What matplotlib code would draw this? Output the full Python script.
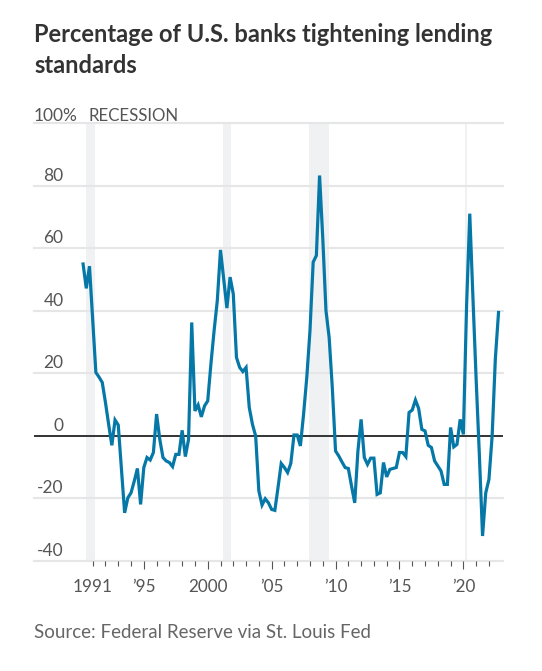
import matplotlib
matplotlib.use("Agg")
import matplotlib.pyplot as plt
import matplotlib.transforms as mtransforms
import numpy as np

plt.rcParams['font.family'] = ['Lato', 'DejaVu Sans']

# net % of banks tightening C&I lending standards, quarterly from 1990 Q2
start_year = 1990.25
pct_tightening = [
    55.0, 47.2, 54.3, 37.0, 20.3, 18.8, 17.1, 10.7, 3.7, -3.0,
    5.1, 3.5, -10.7, -24.6, -19.8, -18.2, -14.5, -10.4, -21.9, -10.1,
    -6.9, -7.7, -5.3, 7.0, -1.1, -6.9, -8.0, -8.5, -9.8, -5.9,
    -5.9, 1.8, -6.6, -1.1, 36.3, 8.0, 9.9, 6.1, 9.6, 11.2,
    23.0, 33.7, 43.3, 59.5, 50.2, 40.9, 50.8, 45.4, 25.1, 21.9,
    20.6, 21.9, 9.1, 3.7, 0.0, -17.6, -22.1, -20.1, -21.4, -23.5,
    -23.8, -16.5, -8.8, -10.1, -11.7, -8.8, 0.3, 0.3, -3.2, 7.0,
    18.7, 33.7, 55.6, 57.7, 83.3, 63.3, 40.1, 31.5, 15.1, -4.8,
    -6.4, -8.3, -10.1, -10.4, -16.0, -21.4, -4.8, 5.3, -6.9, -9.1,
    -7.1, -7.1, -18.7, -18.2, -8.5, -13.1, -10.7, -10.4, -10.1, -5.3,
    -5.3, -6.6, 7.5, 8.3, 11.5, 8.8, 2.1, 1.6, -3.0, -3.7,
    -8.0, -9.6, -11.2, -15.5, -15.5, 2.7, -3.5, -2.7, 5.3, 0.5,
    41.5, 71.1, 44.0, 18.0, -6.0, -32.0, -18.2, -13.9, 0.0, 24.6,
    39.5,
]
quarters = start_year + 0.25 * np.arange(len(pct_tightening))

# recessions (start, end) in decimal years
recessions = [(1990.5, 1991.2), (2001.17, 2001.83), (2007.92, 2009.5), (2020.1, 2020.3)]

y_ticks = [100, 80, 60, 40, 20, 0, -20, -40]
x_major = [1991, 1995, 2000, 2005, 2010, 2015, 2020]
x_labels = ["1991", "\u201995", "2000", "\u201905", "\u201910", "\u201915", "\u201920"]
x_minor = list(range(1991, 2023))

W, H = 542, 671
fig = plt.figure(figsize=(W / 100, H / 100), dpi=100)
ax = fig.add_axes([34 / W, (H - 561) / H, 469 / W, 437.7 / H])
ax.set_xlim(1986.41, 2023.10)
ax.set_ylim(-40, 100)

for a, b in recessions:
    ax.axvspan(a, b, color='#f0f1f3', lw=0, zorder=0)

for v in y_ticks:
    if v == 0:
        continue
    ax.axhline(v, color='#e6e6e6', lw=1.5, zorder=1, clip_on=False)
ax.axhline(0, color='#333333', lw=1.4, zorder=2)

ax.plot(quarters, pct_tightening, color='#0678a8', lw=2.3, zorder=3,
        solid_joinstyle='miter')

for s in ax.spines.values():
    s.set_visible(False)
ax.set_yticks([])
ax.set_xticks(x_major)
ax.set_xticklabels(x_labels)
ax.set_xticks(x_minor, minor=True)
ax.tick_params(axis='x', which='major', length=5.8, width=0.8, color='#555555',
               labelsize=12.3, labelcolor='#555555', pad=7)
ax.tick_params(axis='x', which='minor', length=3.4, width=0.8, color='#555555')
ax.xaxis.get_major_ticks()[0].tick1line.set_markersize(3.4)

lab_x = (63.5 - 34) / 469
tr = mtransforms.offset_copy(ax.get_yaxis_transform(), fig=fig, x=0, y=3.8, units='points')
for v in y_ticks:
    if v == 100:
        continue
    ax.text(lab_x, v, "%g" % v, transform=tr, ha='right', va='baseline',
            fontsize=12.5, color='#555555')
tr100 = mtransforms.offset_copy(ax.get_yaxis_transform(), fig=fig, x=0, y=1.9, units='points')
ax.text(0, 100, "100%", transform=tr100, ha='left', va='baseline',
        fontsize=12.5, color='#555555')
ax.text((88.3 - 34) / 469, 100, "RECESSION", transform=tr100, ha='left', va='baseline',
        fontsize=12.2, color='#555555')

fig.text(34 / W, 1 - 41.7 / H, "Percentage of U.S. banks tightening lending",
         fontsize=17, fontweight='bold', color='#333333', va='baseline', ha='left')
fig.text(34 / W, 1 - 73.3 / H, "standards",
         fontsize=17, fontweight='bold', color='#333333', va='baseline', ha='left')
fig.text(34 / W, 1 - 637.7 / H, "Source: Federal Reserve via St. Louis Fed",
         fontsize=13.5, color='#666666', va='baseline', ha='left')

fig.savefig("out.png", dpi=100)
